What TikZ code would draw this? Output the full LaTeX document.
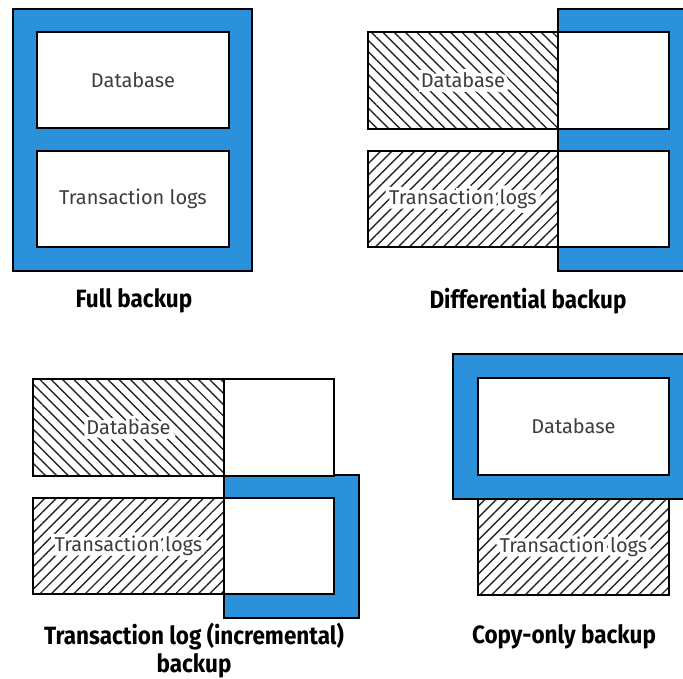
\documentclass[tikz,border=0pt]{standalone}
\usepackage{fontspec}
\setmainfont{Fira Sans}
\newfontfamily\labelfont{Fira Sans}[FakeStretch=0.9]
\newfontfamily\halofont{Fira Sans}[FakeBold=40]
\newcommand\halotext[1]{\makebox[0pt][l]{\color{white}\halofont #1}#1}
\usetikzlibrary{patterns.meta}
\definecolor{bblue}{RGB}{43,145,219}
\definecolor{tgray}{RGB}{62,62,62}
\begin{document}
\begin{tikzpicture}[x=1pt,y=-1pt,
  base/.style={draw=black, line width=1.2pt, inner sep=0pt, outer sep=0pt, anchor=north west},
  frame/.style={base, fill=bblue},
  wbox/.style={base, fill=white},
  hatchdb/.style={base, pattern={Lines[angle=-45,distance=8pt,line width=1.4pt]}, pattern color=black!85},
  hatchtl/.style={base, pattern={Lines[angle=45,distance=8pt,line width=1.4pt]}, pattern color=black!85},
  txt/.style={font=\fontsize{20}{23}\selectfont, text=tgray},
  lbl/.style={font=\labelfont\bfseries\fontsize{25}{28}\selectfont, align=center, text=black}]
\useasboundingbox (0,0) rectangle (683,679);

% Full backup
\node[frame, minimum width=239, minimum height=262] (fframe) at (13,9) {};
\node[wbox, minimum width=192, minimum height=96] (fdb) at (37,32) {};
\node[wbox, minimum width=192, minimum height=96] (ftl) at (37,151) {};
\node[txt] (fdbt) at (fdb.center) {Database};
\node[txt] (ftlt) at (ftl.center) {Transaction logs};
\node[lbl] (flbl) at (134,301) {Full backup};

% Differential backup
\node[frame, minimum width=140, minimum height=262] (dframe) at (558,9) {};
\node[wbox, minimum width=111, minimum height=97] (ddbw) at (558,32) {};
\node[wbox, minimum width=111, minimum height=96] (dtlw) at (558,151) {};
\node[hatchdb, minimum width=190, minimum height=97] (ddbh) at (368,32) {};
\node[hatchtl, minimum width=190, minimum height=96] (dtlh) at (368,151) {};
\node[txt] (ddbt) at (ddbh.center) {\halotext{Database}};
\node[txt] (dtlt) at (dtlh.center) {\halotext{Transaction logs}};
\node[lbl] (dlbl) at (528,301) {Differential backup};

% Transaction log (incremental) backup
\node[frame, minimum width=135, minimum height=143] (tframe) at (224,475) {};
\node[wbox, minimum width=110, minimum height=97] (tdbw) at (224,379) {};
\node[wbox, minimum width=110, minimum height=96] (ttlw) at (224,498) {};
\node[hatchdb, minimum width=191, minimum height=97] (tdbh) at (33,379) {};
\node[hatchtl, minimum width=191, minimum height=96] (ttlh) at (33,498) {};
\node[txt] (tdbt) at (tdbh.center) {\halotext{Database}};
\node[txt] (ttlt) at (ttlh.center) {\halotext{Transaction logs}};
\node[lbl] (tlbl) at (194,651) {Transaction log (incremental)\\backup};

% Copy-only backup
\node[frame, minimum width=240, minimum height=145] (cframe) at (453,354) {};
\node[wbox, minimum width=191, minimum height=97] (cdb) at (478,378) {};
\node[hatchtl, minimum width=191, minimum height=96] (ctl) at (478,499) {};
\node[txt] (cdbt) at (cdb.center) {Database};
\node[txt] (ctlt) at (ctl.center) {\halotext{Transaction logs}};
\node[lbl] (clbl) at (564,637) {Copy-only backup};
\end{tikzpicture}
\end{document}
